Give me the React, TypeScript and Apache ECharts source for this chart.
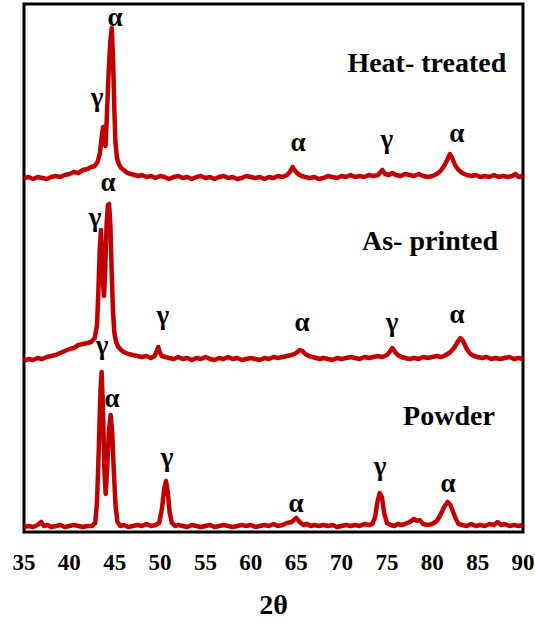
import React, { useEffect, useRef } from "react";
import * as echarts from "echarts";

// 2θ (deg), intensity relative to each pattern's baseline (a.u.)
const heatTreated: [number, number][] = [
  [35,0],[35.5,1],[36,-1],[36.5,1],[37,0],[37.5,-1],[38,1],[38.5,2],[39,1],[39.5,3],[40,4],[40.5,6],[41,5],[41.5,8],[42,9],[42.4,11],[42.8,12],[43.1,16],[43.35,24],[43.55,40],[43.72,51],[43.85,42],[43.98,32],[44.1,55],[44.3,100],[44.5,135],[44.67,150],[44.82,118],[44.95,70],[45.08,35],[45.25,20],[45.45,14],[45.7,10],[46,8],[46.4,5],[46.8,4],[47.2,3],[47.6,2],[48,3],[48.5,1],[49,2],[49.5,0],[50,2],[50.5,1],[51,-1],[51.5,1],[52,2],[52.5,0],[53,1],[53.5,-1],[54,1],[54.5,2],[55,0],[55.5,1],[56,-1],[56.5,1],[57,2],[57.5,0],[58,1],[58.5,-1],[59,0],[59.5,2],[60,1],[60.5,0],[61,1],[61.5,-1],[62,1],[62.5,0],[63,2],[63.5,1],[64,3],[64.3,6],[64.6,11],[64.9,7],[65.2,4],[65.6,2],[66,1],[66.5,0],[67,1],[67.5,-1],[68,0],[68.5,2],[69,1],[69.5,0],[70,2],[70.5,1],[71,3],[71.5,1],[72,2],[72.5,1],[73,3],[73.5,2],[74,3],[74.5,8],[74.8,4],[75.2,3],[75.6,5],[76,3],[76.5,2],[77,4],[77.5,3],[78,2],[78.5,4],[79,2],[79.5,1],[80,2],[80.5,4],[80.9,7],[81.3,12],[81.7,19],[81.95,24],[82.2,20],[82.5,13],[82.9,8],[83.3,5],[83.8,3],[84.3,2],[84.8,3],[85.3,1],[85.8,2],[86.3,1],[86.8,3],[87.3,1],[87.8,2],[88.3,1],[88.8,2],[89.2,4],[89.5,1],[90,2]
];

const asPrinted: [number, number][] = [
  [35,-1],[35.5,1],[36,0],[36.5,2],[37,1],[37.5,3],[38,4],[38.5,5],[39,7],[39.5,9],[40,11],[40.5,12],[41,15],[41.5,16],[42,17],[42.4,18],[42.8,22],[43.05,35],[43.2,70],[43.35,110],[43.48,130],[43.6,105],[43.72,75],[43.82,64],[43.95,90],[44.1,135],[44.25,155],[44.38,156],[44.52,135],[44.66,90],[44.8,50],[44.95,28],[45.15,18],[45.4,13],[45.7,10],[46,8],[46.5,6],[47,5],[47.5,4],[48,3],[48.5,4],[49,2],[49.4,4],[49.65,9],[49.8,13],[49.95,8],[50.2,4],[50.6,3],[51,2],[51.5,1],[52,3],[52.5,1],[53,2],[53.5,0],[54,2],[54.5,1],[55,3],[55.5,1],[56,0],[56.5,2],[57,1],[57.5,3],[58,1],[58.5,2],[59,0],[59.5,1],[60,2],[60.5,1],[61,0],[61.5,2],[62,1],[62.5,3],[63,2],[63.5,3],[64,4],[64.5,5],[65,7],[65.4,10],[65.7,9],[66,6],[66.4,4],[66.8,3],[67.2,2],[67.6,1],[68,2],[68.5,1],[69,0],[69.5,2],[70,1],[70.5,2],[71,3],[71.5,2],[72,1],[72.5,3],[73,2],[73.5,3],[74,4],[74.5,3],[75,5],[75.3,8],[75.6,12],[75.9,8],[76.2,5],[76.6,3],[77,2],[77.5,1],[78,2],[78.5,1],[79,3],[79.5,2],[80,3],[80.5,4],[81,3],[81.5,5],[82,8],[82.4,12],[82.8,18],[83.1,22],[83.4,19],[83.8,11],[84.2,6],[84.6,4],[85,3],[85.5,2],[86,3],[86.5,1],[87,2],[87.5,1],[88,2],[88.5,3],[89,1],[89.5,2],[90,1]
];

const powder: [number, number][] = [
  [35,0],[35.5,1],[36,0],[36.5,2],[36.9,5],[37.2,1],[37.6,2],[38,0],[38.5,1],[39,2],[39.5,0],[40,1],[40.5,2],[41,1],[41.5,0],[42,1],[42.5,1],[42.85,4],[43.05,25],[43.25,80],[43.42,135],[43.56,155],[43.7,120],[43.85,60],[44.0,33],[44.15,55],[44.35,95],[44.55,112],[44.72,95],[44.9,55],[45.1,20],[45.3,5],[45.6,1],[46,2],[46.5,0],[47,1],[47.5,2],[48,1],[48.5,3],[49,1],[49.5,2],[49.9,4],[50.2,18],[50.45,38],[50.65,46],[50.85,35],[51.05,15],[51.3,4],[51.7,1],[52,2],[52.5,1],[53,0],[53.5,2],[54,1],[54.5,0],[55,1],[55.5,2],[56,0],[56.5,1],[57,2],[57.5,1],[58,0],[58.5,1],[59,2],[59.5,1],[60,2],[60.5,0],[61,1],[61.5,2],[62,1],[62.5,3],[63,1],[63.5,2],[64,4],[64.5,5],[65,9],[65.4,5],[65.8,2],[66.2,3],[66.6,1],[67,2],[67.5,1],[68,2],[68.5,1],[69,2],[69.5,0],[70,1],[70.5,2],[71,1],[71.5,2],[72,1],[72.5,3],[73,2],[73.4,3],[73.7,10],[73.95,25],[74.2,34],[74.45,30],[74.7,14],[75,4],[75.4,2],[75.8,1],[76.2,3],[76.6,2],[77,3],[77.5,5],[78,8],[78.3,6],[78.6,7],[79,3],[79.5,2],[80,3],[80.5,6],[80.9,12],[81.3,20],[81.7,25],[82.0,22],[82.3,15],[82.6,8],[82.9,3],[83.3,2],[83.8,1],[84.3,3],[84.8,1],[85.3,2],[85.8,1],[86.3,3],[86.8,2],[87.2,5],[87.6,2],[88,3],[88.5,1],[89,2],[89.5,1],[90,2]
];

const xTicks = [35, 40, 45, 50, 55, 60, 65, 70, 75, 80, 85, 90];

// phase annotations: [label, 2θ, stacked height]
const phaseLabels: [string, number, number][] = [
  ["α", 45.03, 515], ["γ", 43.05, 435], ["α", 65.2, 390], ["γ", 75.0, 393], ["α", 82.7, 399],
  ["α", 44.26, 350], ["γ", 42.83, 315], ["γ", 50.3, 217], ["α", 65.64, 210], ["γ", 75.56, 210], ["α", 82.72, 218],
  ["γ", 43.6, 187], ["α", 44.7, 134], ["γ", 50.76, 75], ["α", 64.98, 29], ["γ", 74.24, 66], ["α", 81.73, 49],
];

const sampleNames: [string, number, number][] = [
  ["Heat- treated", 79.4, 470],
  ["As- printed", 79.75, 292],
  ["Powder", 81.84, 117],
];

const OFFSETS = { heat: 354, printed: 172, powder: 5 };
const RED = "#c00000";
const FONT = "Liberation Serif";

export default function App() {
  const ref = useRef<HTMLDivElement>(null);
  useEffect(() => {
    if (!ref.current) return;
    const chart = echarts.init(ref.current, undefined, { renderer: "svg" });
    const shift = (arr: [number, number][], off: number) => arr.map(([x, y]) => [x, y + off]);
    const lineSeries = (name: string, data: number[][]) => ({
      type: "line",
      name,
      data,
      showSymbol: false,
      symbol: "none",
      smooth: false,
      lineStyle: { color: RED, width: 4.5, join: "round" },
      z: 3,
    });
    const labelSeries = (items: [string, number, number][], size: number) => ({
      type: "scatter",
      symbolSize: 0,
      silent: true,
      z: 5,
      itemStyle: { opacity: 1, color: "#000" },
      data: items.map(([t, x, y]) => ({ name: t, value: [x, y] })),
      label: {
        show: true, position: "inside", formatter: "{b}",
        color: "#000", opacity: 1, fontFamily: FONT, fontWeight: "bold", fontSize: size,
        textBorderWidth: 0,
      },
    });
    chart.setOption({
      animation: false,
      textStyle: { fontFamily: FONT },
      grid: {
        left: 24, right: 12, top: 4, bottom: 87,
        containLabel: false,
        outerBoundsMode: "none",
        show: true, borderColor: "#000", borderWidth: 3, backgroundColor: "transparent",
      },
      xAxis: {
        type: "value",
        min: 35, max: 90, interval: 5,
        axisLine: { show: false },
        axisTick: { show: false },
        splitLine: { show: false },
        axisLabel: {
          color: "#000", fontFamily: FONT, fontWeight: "bold", fontSize: 23, margin: 19,
          formatter: (v: number) => (xTicks.includes(v) ? String(v) : ""),
        },
        name: "2θ",
        nameLocation: "middle",
        nameGap: 58,
        nameTextStyle: { color: "#000", fontFamily: FONT, fontWeight: "bold", fontSize: 28 },
      },
      yAxis: {
        type: "value", min: 0, max: 528, show: false,
        splitLine: { show: false },
      },
      series: [
        lineSeries("Heat- treated", shift(heatTreated, OFFSETS.heat)),
        lineSeries("As- printed", shift(asPrinted, OFFSETS.printed)),
        lineSeries("Powder", shift(powder, OFFSETS.powder)),
        labelSeries(phaseLabels, 27),
        labelSeries(sampleNames, 28),
      ],
    });
    return () => chart.dispose();
  }, []);
  return <div ref={ref} style={{ width: 535, height: 619, position: "absolute", left: 0, top: 0 }} />;
}
